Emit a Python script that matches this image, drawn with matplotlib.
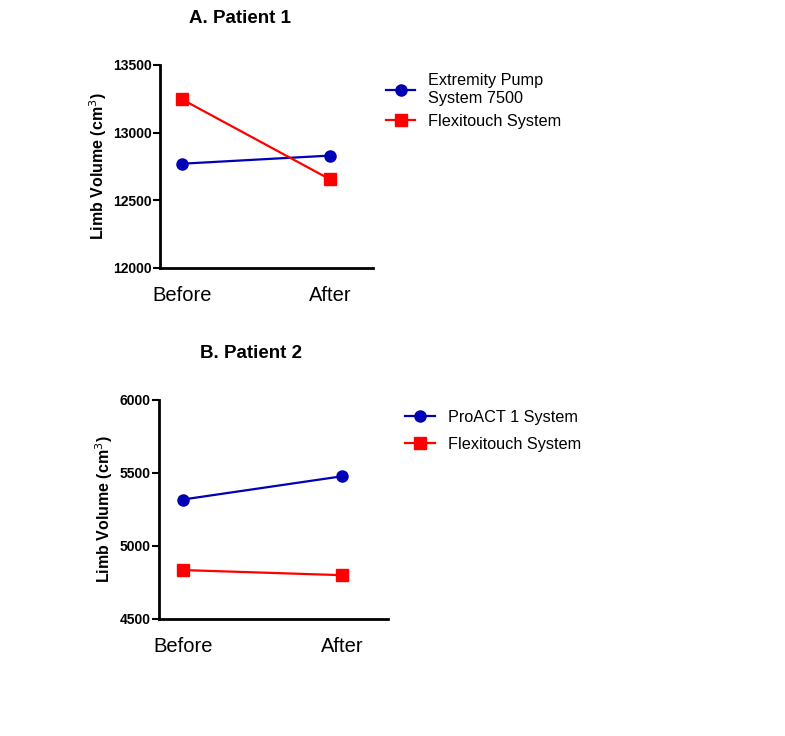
import matplotlib
matplotlib.use('Agg')
import matplotlib.pyplot as plt

plt.rcParams['font.family'] = ['Liberation Sans', 'DejaVu Sans']

timepoints = ['Before', 'After']

# Patient 1
p1_pump_label = 'Extremity Pump\nSystem 7500'
p1_pump = [12770, 12830]
p1_flexi_label = 'Flexitouch System'
p1_flexi = [13245, 12655]
p1_ticks = [12000, 12500, 13000, 13500]

# Patient 2
p2_pump_label = 'ProACT 1 System'
p2_pump = [5318, 5477]
p2_flexi_label = 'Flexitouch System'
p2_flexi = [4835, 4800]
p2_ticks = [4500, 5000, 5500, 6000]

BLUE = '#0000b4'
RED = '#ff0000'


def draw_panel(ax, title, title_x, pump, pump_label, flexi, flexi_label, ticks,
               legend_xy, spacing):
    xs = range(len(timepoints))
    ax.plot(xs, pump, color=BLUE, marker='o', markersize=8, lw=1.6, label=pump_label)
    ax.plot(xs, flexi, color=RED, marker='s', markersize=8, lw=1.6, label=flexi_label)

    ax.set_xlim(-0.15, 1.29)
    ax.set_ylim(ticks[0], ticks[-1])
    ax.set_yticks(ticks)
    ax.set_xticks(list(xs))
    ax.set_xticklabels(timepoints, fontsize=14.5)
    ax.tick_params(axis='x', length=0, pad=13)
    ax.tick_params(axis='y', length=5, width=1.5, labelsize=10, pad=1)
    for lab in ax.get_yticklabels():
        lab.set_fontweight('bold')

    for side in ['top', 'right']:
        ax.spines[side].set_visible(False)
    for side in ['left', 'bottom']:
        ax.spines[side].set_linewidth(2)

    ax.set_ylabel('Limb Volume (cm$^3$)', fontsize=11.5, fontweight='bold', labelpad=3)
    ax.set_title(title, x=title_x, fontsize=13.5, fontweight='bold', pad=30)

    ax.legend(loc='upper left', bbox_to_anchor=legend_xy, frameon=False,
              fontsize=11.7, handlelength=1.8, borderaxespad=0, labelspacing=spacing)


fig = plt.figure(figsize=(7.85, 7.36), dpi=100)
ax1 = fig.add_axes([0.2038, 0.636, 0.271, 0.2758])
ax2 = fig.add_axes([0.2025, 0.159, 0.2917, 0.2976])

draw_panel(ax1, 'A. Patient 1', 0.375, p1_pump, p1_pump_label, p1_flexi, p1_flexi_label,
           p1_ticks, (1.032, 0.99), 0.5)
draw_panel(ax2, 'B. Patient 2', 0.40, p2_pump, p2_pump_label, p2_flexi, p2_flexi_label,
           p2_ticks, (1.048, 0.985), 0.75)

fig.savefig('out.png', dpi=100)
